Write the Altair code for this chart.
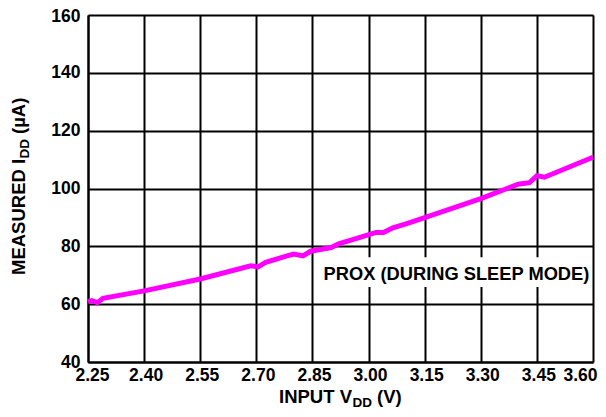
import altair as alt
import pandas as pd

# ---- data ----
vdd = [2.25, 2.26, 2.275, 2.29, 2.40, 2.55, 2.685, 2.705, 2.725, 2.78, 2.80, 2.825,
       2.845, 2.90, 2.92, 2.975, 3.02, 3.04, 3.065, 3.10, 3.15, 3.30, 3.40, 3.43,
       3.45, 3.47, 3.60]
idd = [60.8, 61.2, 60.5, 62.0, 64.6, 68.7, 73.3, 72.9, 74.5, 76.6, 77.3, 76.7,
       78.3, 79.6, 80.9, 83.0, 84.8, 84.8, 86.4, 87.8, 89.9, 96.5, 101.5, 102.0,
       104.4, 103.9, 110.8]
x_ticks = [2.25, 2.40, 2.55, 2.70, 2.85, 3.00, 3.15, 3.30, 3.45, 3.60]
y_ticks = [40, 60, 80, 100, 120, 140, 160]
note_text = ["PROX (DURING SLEEP MODE)"]
note_center = [3.235, 70.0]
note_box_x = [2.855, 3.595]
note_box_y = [65.9, 76.2]
x_title_parts = ["INPUT V", "DD", "(V)"]
y_title_parts = ["MEASURED I", "DD", "(µA)"]

FONT = "Liberation Sans"
df = pd.DataFrame({"vdd": vdd, "idd": idd})

xscale = alt.Scale(domain=[2.25, 3.60], nice=False, zero=False)
yscale = alt.Scale(domain=[40, 160], nice=False, zero=False)

common_axis = dict(title=None, grid=True, gridColor="black", gridWidth=2, gridOpacity=1,
                   domainColor="black", domainWidth=2, ticks=False, tickSize=0,
                   labelFont=FONT, labelFontWeight="bold", labelColor="black")
x_label_offset = {"condition": [{"test": "datum.value >= 3.59", "value": -13},
                                {"test": "datum.value <= 2.26", "value": 4}],
                  "value": 1.5}
y_label_offset = {"condition": {"test": "datum.value >= 159", "value": 1.5},
                  "value": 0}
xaxis = alt.Axis(values=x_ticks, format=".2f", labelPadding=4, labelFlush=False,
                 labelOffset=x_label_offset, labelFontSize=17.5, **common_axis)
yaxis = alt.Axis(values=y_ticks, format="d", labelPadding=8, labelFontSize=17.5,
                 labelFlush=False, labelOffset=y_label_offset, **common_axis)

X = lambda f: alt.X(f, type="quantitative", scale=xscale, axis=xaxis)
Y = lambda f: alt.Y(f, type="quantitative", scale=yscale, axis=yaxis)

line = alt.Chart(df).mark_line(color="#FF00FF", strokeWidth=5).encode(
    x=X("vdd"), y=Y("idd"))

box_df = pd.DataFrame({"x1": [note_box_x[0]], "x2": [note_box_x[1]],
                       "y1": [note_box_y[0]], "y2": [note_box_y[1]]})
box = alt.Chart(box_df).mark_rect(color="white", opacity=1).encode(
    x=X("x1"), x2="x2", y=Y("y1"), y2="y2")

note_df = pd.DataFrame({"x": [note_center[0]], "y": [note_center[1]], "t": note_text})
note = alt.Chart(note_df).mark_text(font=FONT, fontWeight="bold", fontSize=18.3,
                                    color="black", align="center",
                                    baseline="middle").encode(
    x=X("x"), y=Y("y"), text="t:N")


def txt(s, x, y, size, angle=0):
    d = pd.DataFrame({"t": [s]})
    return alt.Chart(d).mark_text(font=FONT, fontWeight="bold", fontSize=size,
                                  color="black", align="left",
                                  baseline="alphabetic", angle=angle).encode(
        x=alt.value(x), y=alt.value(y), text="t:N")


xt = [txt(x_title_parts[0], 191, 387.5, 18.5),
      txt(x_title_parts[1], 264.5, 391.5, 13.5),
      txt(x_title_parts[2], 289, 387.5, 18.5)]
yt = [txt(y_title_parts[0], -63, 260, 18.5, 270),
      txt(y_title_parts[1], -59, 143.5, 13.5, 270),
      txt(y_title_parts[2], -63, 119, 18.5, 270)]

chart = alt.layer(box, note, line, *xt, *yt).properties(
    width=505, height=347,
    autosize=alt.AutoSizeParams(type="none"),
    padding={"left": 80, "top": 7, "right": 5, "bottom": 47},
).configure_view(stroke=None).configure(background="white")

chart.save("out.html", embed_options={"renderer": "svg", "actions": False})
